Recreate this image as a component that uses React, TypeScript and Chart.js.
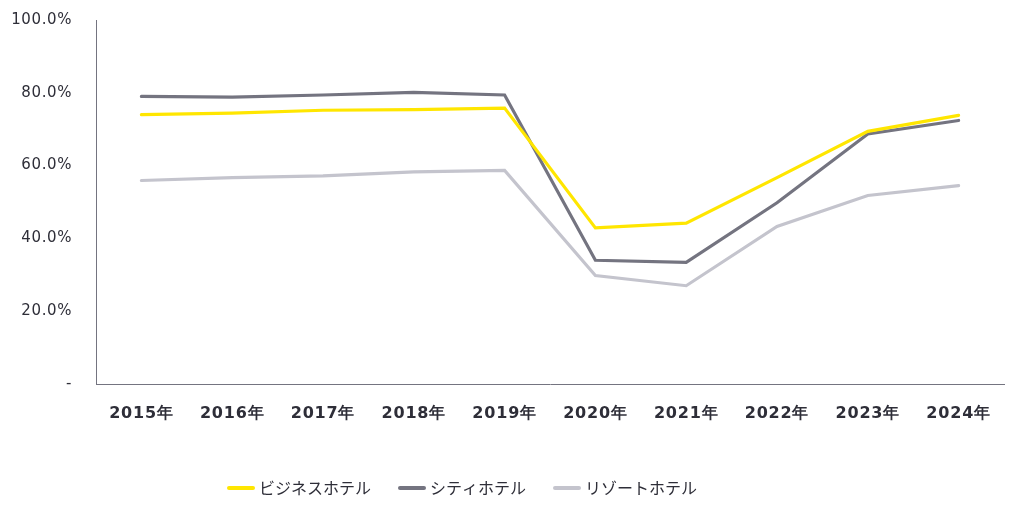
import React, { useEffect, useRef } from "react";
import { Chart, registerables } from "chart.js";

Chart.register(...registerables);

const categories = ["2015年", "2016年", "2017年", "2018年", "2019年", "2020年", "2021年", "2022年", "2023年", "2024年"];
const businessHotel = [74.0, 74.4, 75.2, 75.4, 75.8, 42.9, 44.2, 56.7, 69.4, 73.8];
const cityHotel = [79.0, 78.8, 79.4, 80.1, 79.4, 34.0, 33.4, 49.8, 68.7, 72.4];
const resortHotel = [55.9, 56.7, 57.2, 58.3, 58.7, 29.8, 27.0, 43.3, 51.8, 54.5];
const seriesNames = ["ビジネスホテル", "シティホテル", "リゾートホテル"];
const seriesColors = ["#FFE600", "#747480", "#C4C4CD"];
const yTicks = [0, 20, 40, 60, 80, 100];

function patchSpacing(s: any, spacing: string) {
  if (s.__patched) return;
  const orig = s.drawLabels.bind(s);
  s.drawLabels = (area: any) => {
    const ctx = s.ctx as any;
    const prev = ctx.letterSpacing;
    ctx.letterSpacing = spacing;
    orig(area);
    ctx.letterSpacing = prev || "0px";
  };
  s.__patched = true;
}

function legendSwatch(color: string) {
  const c = document.createElement("canvas");
  c.width = 28;
  c.height = 4;
  const g = c.getContext("2d")!;
  g.strokeStyle = color;
  g.lineWidth = 4;
  g.lineCap = "round";
  g.beginPath();
  g.moveTo(2, 2);
  g.lineTo(26, 2);
  g.stroke();
  return c;
}

const legendShift = {
  id: "legendShift",
  afterLayout(chart: any) {
    const lg = chart.legend;
    if (lg) {
      lg.left -= 38;
      lg.right -= 38;
    }
  },
};

export default function App() {
  const ref = useRef<HTMLCanvasElement | null>(null);
  useEffect(() => {
    document.body.style.margin = "0";
    const canvas = ref.current!;
    const seriesData = [businessHotel, cityHotel, resortHotel];
    const chart = new Chart(canvas, {
      type: "line",
      data: {
        labels: categories,
        datasets: seriesData.map((data, i) => ({
          label: seriesNames[i],
          data,
          borderColor: seriesColors[i],
          backgroundColor: seriesColors[i],
          pointStyle: legendSwatch(seriesColors[i]) as any,
          borderWidth: 3.2,
          pointRadius: 0,
          pointHoverRadius: 0,
          tension: 0,
          borderCapStyle: "round" as const,
          borderJoinStyle: "miter" as const,
        })),
      },
      plugins: [legendShift],
      options: {
        responsive: false,
        animation: false,
        devicePixelRatio: 1,
        layout: { padding: { top: 20, right: 8, left: 0, bottom: 7 } },
        plugins: {
          tooltip: { enabled: false },
          legend: {
            position: "bottom",
            labels: {
              usePointStyle: true,
              pointStyleWidth: 20,
              boxWidth: 20,
              padding: 31,
              color: "#2e2e38",
              font: { family: "'Noto Sans CJK JP', sans-serif", size: 16 },
            },
          },
        },
        scales: {
          x: {
            offset: true,
            grid: { display: false, drawTicks: false },
            border: { display: true, color: "#747480", width: 1 },
            ticks: {
              color: "#2e2e38",
              padding: 20,
              maxRotation: 0,
              font: { family: "'DejaVu Sans', sans-serif", size: 16, weight: "bold" },
            },
            afterFit: (s: any) => {
              s.height = 65;
              patchSpacing(s, "0.8px");
            },
          },
          y: {
            min: 0,
            max: 100,
            afterBuildTicks: (s: any) => {
              s.ticks = yTicks.map((v) => ({ value: v }));
            },
            grid: { display: false, drawTicks: true, tickLength: 24, tickColor: "rgba(0,0,0,0)" },
            border: { display: true, color: "#747480", width: 1 },
            ticks: {
              color: "#2e2e38",
              padding: 0,
              font: { family: "'DejaVu Sans', sans-serif", size: 15 },
              callback: (v: any) => (Number(v) === 0 ? "-" : Number(v).toFixed(1) + "%"),
            },
            afterFit: (s: any) => {
              s.width = 96;
              patchSpacing(s, "0.6px");
            },
          },
        },
      },
    });
    return () => chart.destroy();
  }, []);
  return (
    <div style={{ width: 1012, height: 513 }}>
      <canvas ref={ref} width={1012} height={513} />
    </div>
  );
}
